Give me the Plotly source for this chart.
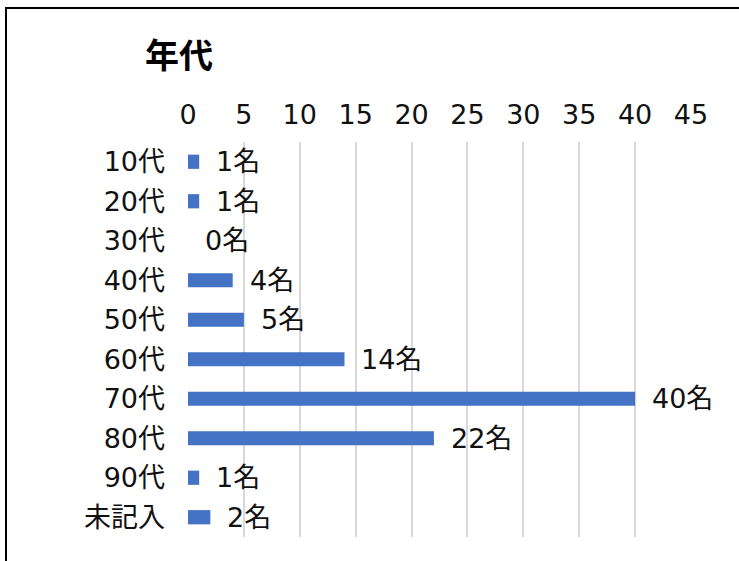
import plotly.graph_objects as go

categories = ["10代", "20代", "30代", "40代", "50代", "60代", "70代", "80代", "90代", "未記入"]
counts = [1, 1, 0, 4, 5, 14, 40, 22, 1, 2]
tick_vals = [0, 5, 10, 15, 20, 25, 30, 35, 40, 45]
title_text = "年代"

FONT = "DejaVu Sans, Noto Sans CJK JP"
TFONT = "Noto Sans CJK JP"

fig = go.Figure()
fig.add_trace(go.Bar(
    x=counts, y=categories, orientation="h",
    marker=dict(color="#4472C4", line=dict(width=0)),
    width=0.36,
    hoverinfo="skip",
))

for c, v in zip(categories, counts):
    fig.add_annotation(
        x=v, y=c, text=f"{v}名", showarrow=False,
        xanchor="left", yanchor="middle", xshift=15,
        font=dict(family=FONT, size=27, color="#111111"),
    )

fig.add_annotation(
    x=(143 - 188) / 503, y=(537 - 54) / 395, xref="paper", yref="paper",
    text=f"<b>{title_text}</b>", showarrow=False,
    xanchor="left", yanchor="middle",
    font=dict(family=TFONT, size=34, color="#000000"),
)

fig.add_shape(
    type="rect", xref="paper", yref="paper",
    x0=(6 - 188) / 503, x1=(760 - 188) / 503,
    y0=(537 - 580) / 395, y1=(537 - 8) / 395,
    line=dict(color="#000000", width=2), fillcolor="rgba(0,0,0,0)",
)

fig.update_layout(
    width=739, height=561,
    margin=dict(l=188, r=48, t=142, b=24),
    paper_bgcolor="white", plot_bgcolor="white",
    showlegend=False,
    font=dict(family=FONT, size=27, color="#111111"),
)
fig.update_xaxes(
    side="top", range=[0, 45], tickvals=tick_vals,
    showgrid=True, gridcolor="#d9d9d9", gridwidth=2,
    zeroline=False, showline=False, ticks="",
    ticklabelstandoff=12,
    tickfont=dict(family=FONT, size=27, color="#111111"),
)
fig.update_yaxes(
    autorange="reversed", showgrid=False, zeroline=False, showline=False,
    ticks="", ticklabelstandoff=22,
    tickfont=dict(family=FONT, size=27, color="#111111"),
)

fig.write_html(
    "out.html",
    config={"displayModeBar": False},
    post_script="document.body.style.margin='0';",
)
